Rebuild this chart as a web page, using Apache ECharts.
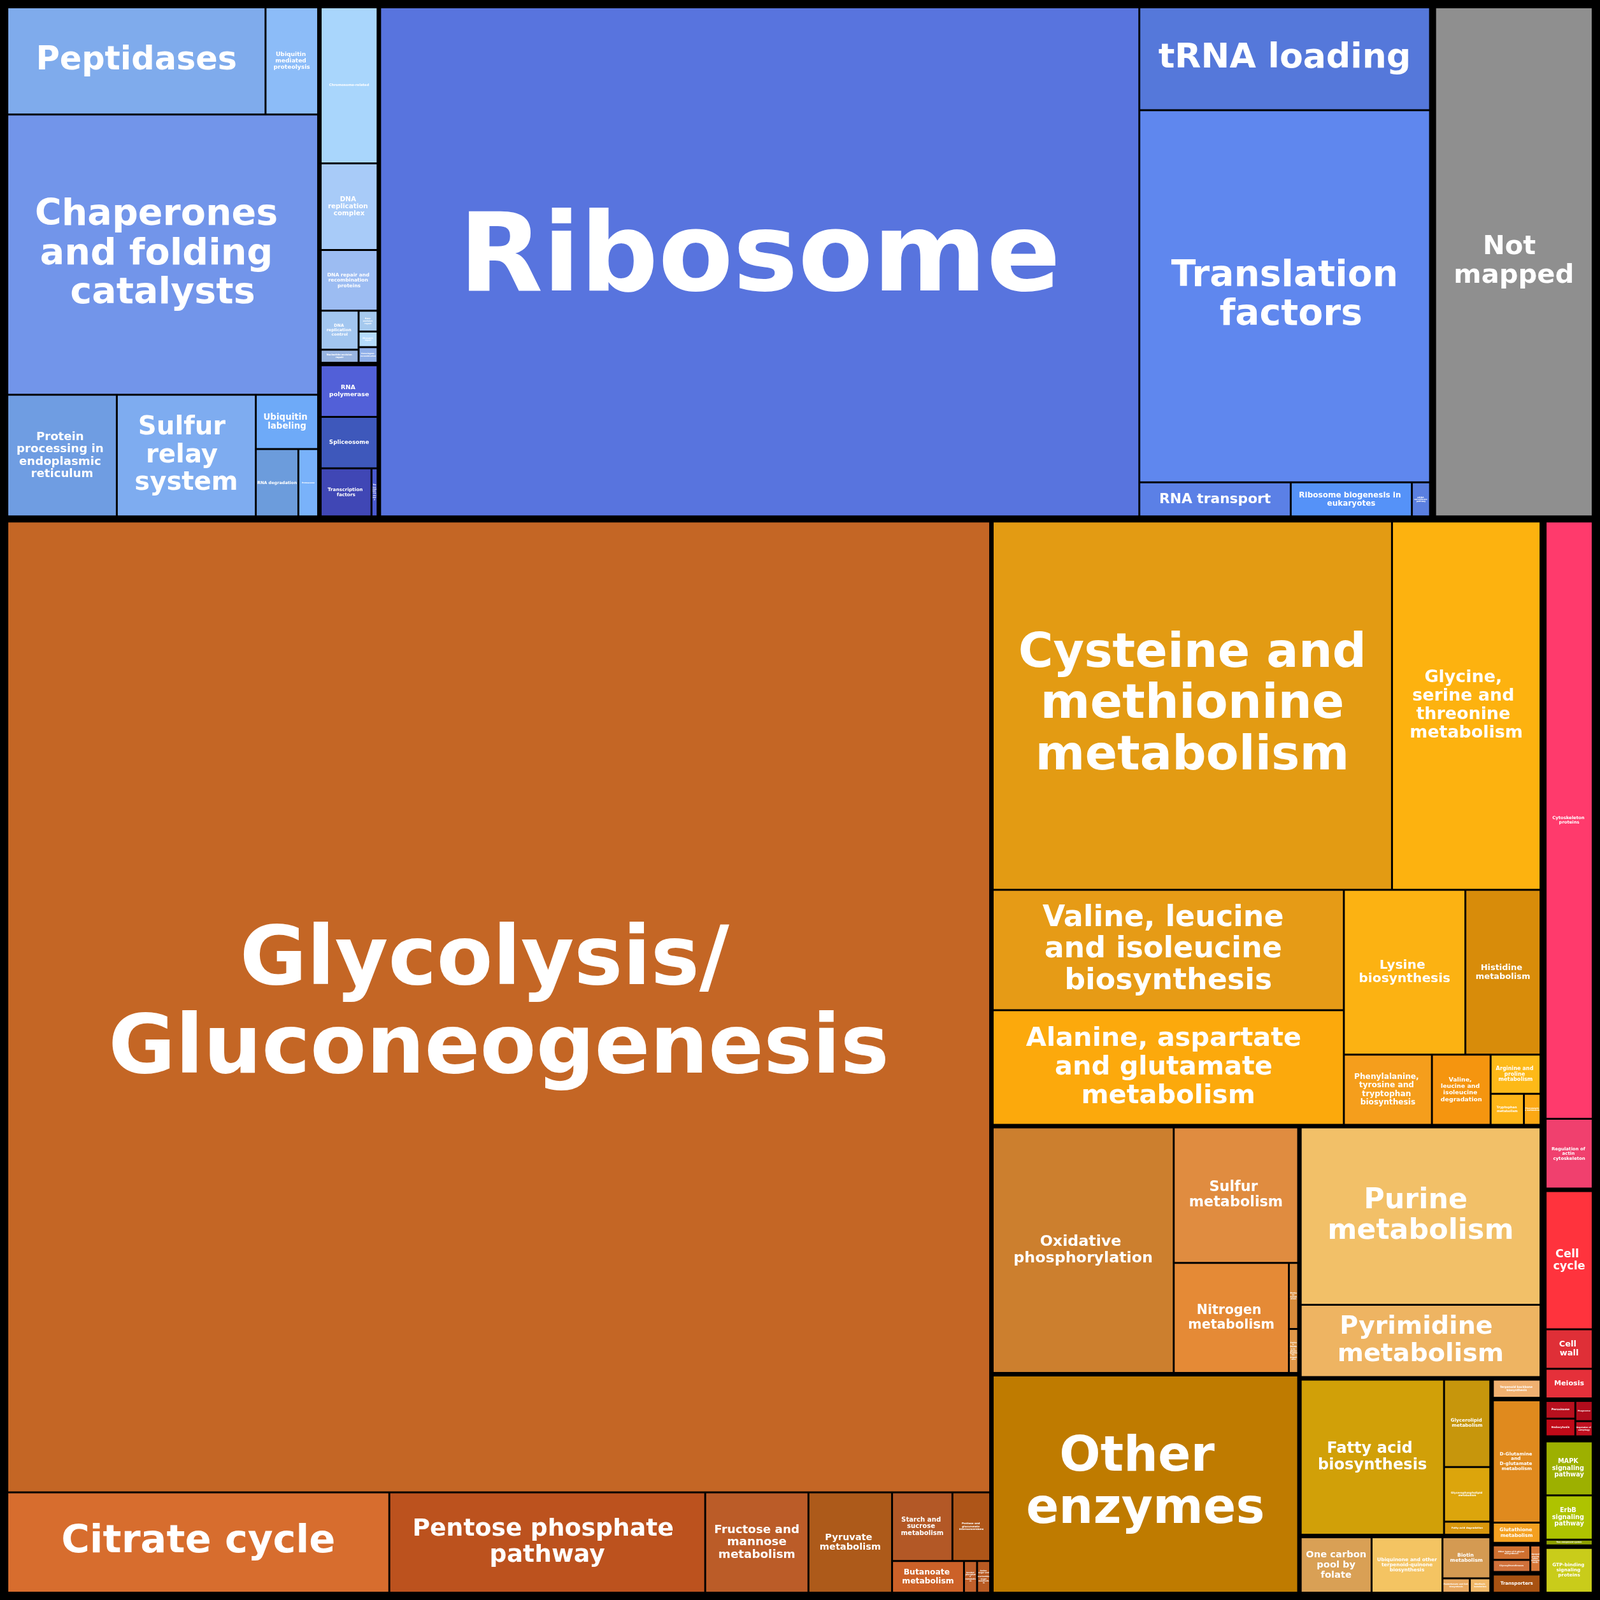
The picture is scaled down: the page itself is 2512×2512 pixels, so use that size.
<!DOCTYPE html>
<html>
<head>
<meta charset="utf-8">
<script src="https://cdn.jsdelivr.net/npm/echarts@6/dist/echarts.min.js"></script>
<style>
html, body { margin: 0; padding: 0; background: #000; }
#main { width: 2512px; height: 2512px; }
</style>
</head>
<body>
<div id="main"></div>
<script>
/* data: pathway names and sizes (relative cell areas) */
let folding = ['Peptidases', 'Ubiquitin mediated proteolysis', 'Chaperones and folding catalysts',
  'Protein processing in endoplasmic reticulum', 'Sulfur relay system', 'Ubiquitin labeling', 'RNA degradation', 'Proteasome'];
let foldingValues = [27, 5.5, 85, 13, 16.5, 3.3, 2.8, 1.3];

let replication = ['Chromosome-related', 'DNA replication complex', 'DNA repair and recombination proteins',
  'DNA replication control', 'Nucleotide excision repair', 'Base excision repair', 'Mismatch repair', 'Homologous recombination'];
let replicationValues = [9, 5, 3.5, 1.5, 0.5, 0.4, 0.3, 0.3];

let transcription = ['RNA polymerase', 'Spliceosome', 'Transcription factors', 'Transcription machinery'];
let transcriptionValues = [3, 3, 2.5, 0.3];

let translation = ['Ribosome', 'tRNA loading', 'Translation factors', 'RNA transport',
  'Ribosome biogenesis in eukaryotes', 'mRNA surveillance pathway'];
let translationValues = [375, 29, 105, 5, 4, 0.6];

let notMapped = 80;

let carbohydrate = ['Glycolysis/ Gluconeogenesis', 'Citrate cycle', 'Pentose phosphate pathway',
  'Fructose and mannose metabolism', 'Pyruvate metabolism', 'Starch and sucrose metabolism',
  'Pentose and glucuronate interconversions', 'Butanoate metabolism', 'Inositol phosphate metabolism',
  'Amino sugar and nucleotide sugar metabolism'];
let carbohydrateValues = [921, 37, 30.6, 10, 8.1, 4, 2.5, 2.2, 0.4, 0.4];

let aminoAcid = ['Cysteine and methionine metabolism', 'Glycine, serine and threonine metabolism',
  'Valine, leucine and isoleucine biosynthesis', 'Alanine, aspartate and glutamate metabolism',
  'Lysine biosynthesis', 'Histidine metabolism', 'Phenylalanine, tyrosine and tryptophan biosynthesis',
  'Valine, leucine and isoleucine degradation', 'Arginine and proline metabolism',
  'Tryptophan metabolism', 'Phenylalanine metabolism'];
let aminoAcidValues = [142.5, 53, 41, 39, 19.4, 12, 6, 4, 1.9, 1, 0.5];

let energy = ['Oxidative phosphorylation', 'Sulfur metabolism', 'Nitrogen metabolism',
  'Methane metabolism', 'Carbon fixation in photosynthetic organisms'];
let energyValues = [43.5, 16.5, 12.4, 0.6, 0.4];

let otherEnzymes = 65;

let nucleotide = ['Purine metabolism', 'Pyrimidine metabolism'];
let nucleotideValues = [41.7, 17];

let lipid = ['Fatty acid biosynthesis', 'Glycerolipid metabolism', 'Glycerophospholipid metabolism', 'Fatty acid degradation'];
let lipidValues = [22, 4, 2.5, 0.6];

let cofactors = ['One carbon pool by folate', 'Ubiquinone and other terpenoid-quinone biosynthesis',
  'Biotin metabolism', 'Pantothenate and CoA biosynthesis', 'Riboflavin metabolism'];
let cofactorsValues = [4, 4, 2, 0.4, 0.3];

let terpenoids = ['Terpenoid backbone biosynthesis'];
let terpenoidsValues = [1];

let otherAmino = ['D-Glutamine and D-glutamate metabolism', 'Glutathione metabolism'];
let otherAminoValues = [6, 1];

let glycan = ['Other types of O-glycan biosynthesis', 'Glycosyltransferases', 'Lipopolysaccharide biosynthesis'];
let glycanValues = [0.6, 0.5, 0.3];

let transporters = ['Transporters'];
let transportersValues = [1];

let motility = ['Cytoskeleton proteins', 'Regulation of actin cytoskeleton'];
let motilityValues = [30, 3.5];
let growth = ['Cell cycle', 'Cell wall', 'Meiosis'];
let growthValues = [7, 2, 1.5];
let catabolism = ['Peroxisome', 'Endocytosis', 'Phagosome', 'Regulation of autophagy'];
let catabolismValues = [0.6, 0.6, 0.4, 0.3];

let signaling = ['MAPK signaling pathway', 'ErbB signaling pathway', 'Two-component system'];
let signalingValues = [2.8, 2.3, 0.3];
let signalProteins = ['GTP-binding signaling proteins'];
let signalProteinsValues = [2.4];

/* colours of the cells */
let colors = {
  'Peptidases': '#7fabec', 'Ubiquitin mediated proteolysis': '#8cbcf8', 'Chaperones and folding catalysts': '#7295ea',
  'Protein processing in endoplasmic reticulum': '#6f9de2', 'Sulfur relay system': '#7eacf0', 'Ubiquitin labeling': '#6eaaf8',
  'RNA degradation': '#6c9cdc', 'Proteasome': '#79b2fa',
  'Chromosome-related': '#a9d6fc', 'DNA replication complex': '#a8cbf8', 'DNA repair and recombination proteins': '#9cbcf2',
  'DNA replication control': '#a2c6f0', 'Nucleotide excision repair': '#98b4e0', 'Base excision repair': '#a5c9ee',
  'Mismatch repair': '#b5dcfc', 'Homologous recombination': '#8eaee8',
  'RNA polymerase': '#5260d8', 'Spliceosome': '#3e58bb', 'Transcription factors': '#4047b5', 'Transcription machinery': '#4a5ad0',
  'Ribosome': '#5874de', 'tRNA loading': '#5578da', 'Translation factors': '#5f87ee', 'RNA transport': '#5b80e6',
  'Ribosome biogenesis in eukaryotes': '#5592f8', 'mRNA surveillance pathway': '#5a7fe0',
  'Not mapped': '#8f8f8f',
  'Glycolysis/ Gluconeogenesis': '#c46625', 'Citrate cycle': '#d76d2e', 'Pentose phosphate pathway': '#bc521e',
  'Fructose and mannose metabolism': '#bb5c28', 'Pyruvate metabolism': '#ad5a1a', 'Starch and sucrose metabolism': '#b35826',
  'Pentose and glucuronate interconversions': '#ae5518', 'Butanoate metabolism': '#cc6128',
  'Inositol phosphate metabolism': '#c0602a', 'Amino sugar and nucleotide sugar metabolism': '#b85a22',
  'Cysteine and methionine metabolism': '#e39b13', 'Glycine, serine and threonine metabolism': '#fdb20f',
  'Valine, leucine and isoleucine biosynthesis': '#e69b16', 'Alanine, aspartate and glutamate metabolism': '#fca90c',
  'Lysine biosynthesis': '#fcb212', 'Histidine metabolism': '#d88c0a',
  'Phenylalanine, tyrosine and tryptophan biosynthesis': '#f59e1c', 'Valine, leucine and isoleucine degradation': '#f5950f',
  'Arginine and proline metabolism': '#fdb918', 'Tryptophan metabolism': '#fdb518', 'Phenylalanine metabolism': '#fca814',
  'Oxidative phosphorylation': '#cc7f2e', 'Sulfur metabolism': '#e08c40', 'Nitrogen metabolism': '#e58a36',
  'Methane metabolism': '#d88a3a', 'Carbon fixation in photosynthetic organisms': '#e09848',
  'Other enzymes': '#bf7b00',
  'Purine metabolism': '#f2c068', 'Pyrimidine metabolism': '#eeb462',
  'Fatty acid biosynthesis': '#d1a008', 'Glycerolipid metabolism': '#c7960c', 'Glycerophospholipid metabolism': '#dca50c',
  'Fatty acid degradation': '#d8960c',
  'One carbon pool by folate': '#d9a055', 'Ubiquinone and other terpenoid-quinone biosynthesis': '#f4c462',
  'Biotin metabolism': '#d49a52', 'Pantothenate and CoA biosynthesis': '#e8a860', 'Riboflavin metabolism': '#f0b868',
  'Terpenoid backbone biosynthesis': '#f0b070',
  'D-Glutamine and D-glutamate metabolism': '#e08a1e', 'Glutathione metabolism': '#f4a020',
  'Other types of O-glycan biosynthesis': '#cf7030', 'Glycosyltransferases': '#d0703a', 'Lipopolysaccharide biosynthesis': '#d87838',
  'Transporters': '#a85212',
  'Cytoskeleton proteins': '#ff3a6c', 'Regulation of actin cytoskeleton': '#f0406e',
  'Cell cycle': '#ff333d', 'Cell wall': '#df2f37', 'Meiosis': '#e5303a',
  'Peroxisome': '#b8101e', 'Endocytosis': '#c00a18', 'Phagosome': '#b00c1c', 'Regulation of autophagy': '#c01020',
  'MAPK signaling pathway': '#9db000', 'ErbB signaling pathway': '#aec300', 'Two-component system': '#8ea000',
  'GTP-binding signaling proteins': '#c9cc1a'
};

function leaves(names, values) {
  return names.map((n, i) => ({ name: n, value: values[i] }));
}

let tree = [
  { name: 'Genetic Information Processing', children: [
    { name: 'Folding, sorting and degradation', children: leaves(folding, foldingValues) },
    { name: 'Replication and repair', children: leaves(replication, replicationValues) },
    { name: 'Transcription', children: leaves(transcription, transcriptionValues) },
    { name: 'Translation', children: leaves(translation, translationValues) }
  ]},
  { name: 'Not mapped', value: notMapped },
  { name: 'Metabolism', children: [
    { name: 'Carbohydrate metabolism', children: leaves(carbohydrate, carbohydrateValues) },
    { name: 'Amino acid metabolism', children: leaves(aminoAcid, aminoAcidValues) },
    { name: 'Energy metabolism', children: leaves(energy, energyValues) },
    { name: 'Other enzymes', value: otherEnzymes },
    { name: 'Nucleotide metabolism', children: leaves(nucleotide, nucleotideValues) },
    { name: 'Lipid metabolism', children: leaves(lipid, lipidValues) },
    { name: 'Metabolism of cofactors and vitamins', children: leaves(cofactors, cofactorsValues) },
    { name: 'Metabolism of terpenoids and polyketides', children: leaves(terpenoids, terpenoidsValues) },
    { name: 'Metabolism of other amino acids', children: leaves(otherAmino, otherAminoValues) },
    { name: 'Glycan biosynthesis and metabolism', children: leaves(glycan, glycanValues) },
    { name: 'Transporters', children: leaves(transporters, transportersValues) }
  ]},
  { name: 'Cellular Processes', children: [
    { name: 'Cell motility', children: leaves(motility, motilityValues) },
    { name: 'Cell growth and death', children: leaves(growth, growthValues) },
    { name: 'Transport and catabolism', children: leaves(catabolism, catabolismValues) }
  ]},
  { name: 'Environmental Information Processing', children: [
    { name: 'Signal transduction', children: leaves(signaling, signalingValues) },
    { name: 'Signaling molecules', children: leaves(signalProteins, signalProteinsValues) }
  ]}
];

/* label text is fitted into each cell, like the original picture does */
let ctx = document.createElement('canvas').getContext('2d');
function fits(words, fs, w, h) {
  ctx.font = 'bold ' + fs + 'px "DejaVu Sans"';
  let lines = 1, cur = '';
  for (let word of words) {
    if (ctx.measureText(word).width > w) return false;
    let t = cur ? cur + ' ' + word : word;
    if (cur && ctx.measureText(t).width > w) { lines++; cur = word; } else cur = t;
  }
  return lines * fs * 1.1 <= h;
}
function fitSize(name, w, h) {
  let words = name.split(' ');
  let bw = Math.max(w - 8, 1) * 0.8, bh = Math.max(h - 8, 1) * 0.85;
  let hi = Math.min(190, 0.2 * Math.sqrt(w * h)), lo = 3;
  if (fits(words, hi, bw, bh)) return hi;
  for (let k = 0; k < 20; k++) {
    let mid = (lo + hi) / 2;
    if (fits(words, mid, bw, bh)) lo = mid; else hi = mid;
  }
  return lo;
}

let sizes = {};
function dress(nodes) {
  nodes.forEach(n => {
    if (n.children) { dress(n.children); return; }
    let fs = sizes[n.name] || 12;
    let off = Math.max(1, fs * 0.03);
    n.itemStyle = { color: colors[n.name] };
    n.label = { fontSize: fs, lineHeight: fs * 1.08, textShadowOffsetX: off, textShadowOffsetY: off };
  });
}
dress(tree);

var myChart = echarts.init(document.getElementById('main'));
option = {
  backgroundColor: '#000',
  series: [{
    type: 'treemap',
    left: 0, top: 0, right: 0, bottom: 0,
    sort: false,
    roam: false,
    nodeClick: false,
    breadcrumb: { show: false },
    visibleMin: 0,
    animation: false,
    label: {
      show: true,
      position: 'inside',
      align: 'center',
      verticalAlign: 'middle',
      padding: 0,
      color: '#fff',
      fontFamily: 'DejaVu Sans',
      fontWeight: 'bold',
      overflow: 'break',
      textShadowColor: 'rgba(0,0,0,0.85)',
      textShadowBlur: 0
    },
    upperLabel: { show: false },
    itemStyle: { borderColor: '#000' },
    levels: [
      { itemStyle: { borderColor: '#000', borderWidth: 13, gapWidth: 11 } },
      { itemStyle: { borderColor: '#000', borderWidth: 0, gapWidth: 7 } },
      { itemStyle: { borderColor: '#000', borderWidth: 0, gapWidth: 3 } },
      { itemStyle: { borderWidth: 0 } }
    ],
    data: tree
  }]
};
myChart.setOption(option);

// second pass: read the cell sizes the treemap laid out and fit the label text
let data = myChart.getModel().getSeriesByIndex(0).getData();
for (let i = 0; i < data.count(); i++) {
  let node = data.tree.getNodeByDataIndex(i);
  if (node.children && node.children.length) continue;
  let lay = node.getLayout();
  if (!lay) continue;
  sizes[node.name] = fitSize(node.name, lay.width, lay.height);
}
dress(tree);
myChart.setOption({ series: [{ data: tree }] });
</script>
</body>
</html>
